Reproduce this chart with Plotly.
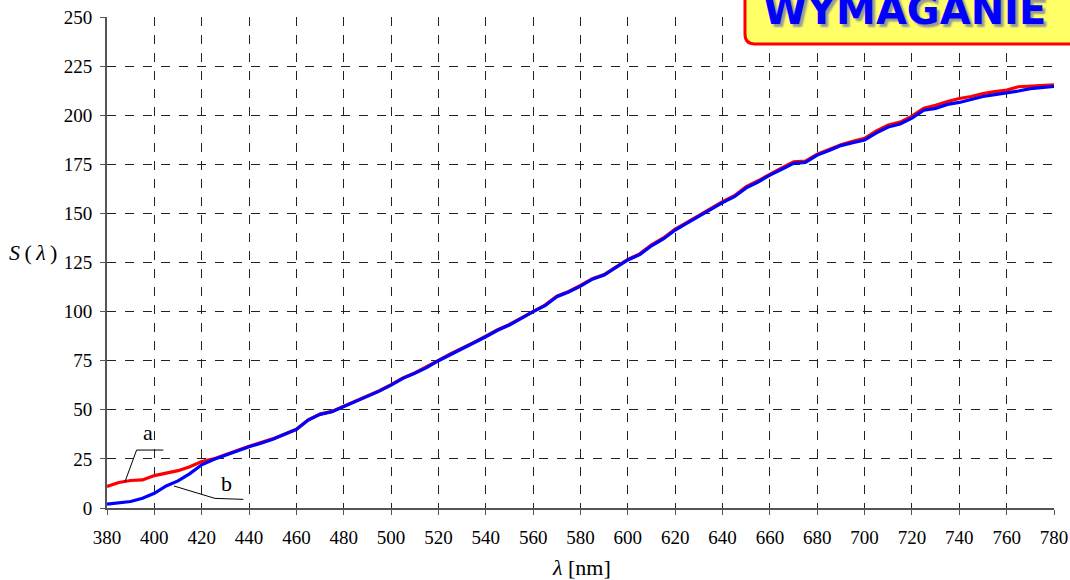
import plotly.graph_objects as go

wavelength = list(range(380, 781, 5))

s_b = [2, 2.5, 3.3, 5, 7.5, 11.2, 13.8, 17.5, 22, 24.7,
       27, 29, 31.2, 33, 35, 37.5, 40, 44.8, 47.7, 49,
       51.6, 54, 56.7, 59.5, 62.6, 66, 68.6, 71.5, 75, 78,
       81, 84, 87.2, 90.5, 93.2, 96.5, 100, 103, 107.6, 110,
       113, 116.5, 118.6, 122.5, 126.3, 129, 133.5, 137, 141.5, 145,
       148.5, 152, 155.5, 158.5, 163, 166, 169.5, 172.5, 175.5, 176,
       179.7, 182, 184.5, 186, 187.4, 191, 194, 195.5, 198.5, 202.5,
       203.5, 205.5, 206.5, 208, 209.5, 210.5, 211.3, 212.3, 213.5, 214, 214.7]

s_a = [11, 13, 14, 14.3, 16.5, 17.8, 19, 21, 23.6, 25,
       27.3, 29.3, 31.4, 33.2, 35.2, 37.6, 40.1, 44.9, 47.8, 49.2,
       51.8, 54.2, 56.9, 59.7, 62.8, 66.2, 68.8, 71.8, 75.2, 78.5,
       81.3, 84.3, 87.5, 90.8, 93.5, 96.8, 100.3, 103.3, 107.9, 110.3,
       113.3, 116.8, 118.9, 122.8, 126.6, 129.4, 134, 137.5, 142, 145.4,
       149, 152.5, 156, 159, 163.6, 166.6, 170, 173.2, 176.2, 176.6,
       180.2, 182.6, 185, 186.7, 188.2, 192, 195, 196.5, 199.5, 203.5,
       205, 207, 208.5, 209.5, 211, 212, 212.8, 214.5, 214.8, 215.2, 215.4]

x_ticks = list(range(380, 781, 20))
y_ticks = list(range(0, 251, 25))

serif = "Liberation Serif"

fig = go.Figure()
fig.add_trace(go.Scatter(x=wavelength, y=s_a, mode="lines",
                         line=dict(color="#FF0000", width=3.2), name="a"))
fig.add_trace(go.Scatter(x=wavelength, y=s_b, mode="lines",
                         line=dict(color="#0000FF", width=3.2), name="b"))

W, H = 1070, 580
L, R, T, B = 107, 1054, 17, 508


def px(xp):
    return (xp - L) / (R - L)


def py(yp):
    return (B - yp) / (B - T)


# rounded yellow box (top-right)
bx0, bx1, by0, by1, rr = 745, 1085, -20, 44, 10
path = (f"M {px(bx0)},{py(by0)} L {px(bx0)},{py(by1 - rr)} "
        f"Q {px(bx0)},{py(by1)} {px(bx0 + rr)},{py(by1)} "
        f"L {px(bx1)},{py(by1)} L {px(bx1)},{py(by0)} Z")

shapes = [
    dict(type="path", xref="paper", yref="paper", path=path,
         fillcolor="#FFFF66", line=dict(color="#FF0000", width=3), layer="above"),
    # leader line for a
    dict(type="path", xref="x", yref="y",
         path="M 403.8,29.5 L 392.5,29.5 L 387.6,13.4",
         line=dict(color="black", width=1)),
    # leader line for b
    dict(type="path", xref="x", yref="y",
         path="M 437.6,4.4 L 425.6,4.9 L 408.3,11.2",
         line=dict(color="black", width=1)),
]

annotations = [
    dict(text="<b>WYMAGANIE</b>", xref="paper", yref="paper",
         x=px(904.5), y=py(10), xanchor="center", yanchor="middle",
         showarrow=False,
         font=dict(family="DejaVu Sans", size=40, color="#0000FF",
                   shadow="3px 3px 2px #999999")),
    dict(text="a", x=397.3, y=38.5, xref="x", yref="y", showarrow=False,
         font=dict(family=serif, size=22, color="black")),
    dict(text="b", x=430.3, y=12.3, xref="x", yref="y", showarrow=False,
         font=dict(family=serif, size=22, color="black")),
    dict(text="<i>S</i>\u2009(\u2009<i>λ</i>\u2009)", xref="paper", yref="paper",
         x=px(33), y=py(252), xanchor="center", yanchor="middle", showarrow=False,
         font=dict(family=serif, size=22, color="black")),
    dict(text="<i>λ</i> [nm]", xref="paper", yref="paper",
         x=px(581), y=py(567), xanchor="center", yanchor="middle", showarrow=False,
         font=dict(family=serif, size=22, color="black")),
]

fig.update_layout(
    width=W, height=H,
    margin=dict(l=L, r=W - R, t=T, b=H - B, autoexpand=False),
    paper_bgcolor="white", plot_bgcolor="white",
    showlegend=False,
    shapes=shapes, annotations=annotations,
    font=dict(family=serif, size=19, color="black"),
)

axis_common = dict(showgrid=True, gridcolor="#222222", griddash="dash", gridwidth=1,
                   showline=True, linecolor="#555555", linewidth=2,
                   ticks="outside", ticklen=5, tickcolor="#555555",
                   zeroline=False, automargin=False,
                   tickfont=dict(family=serif, size=19))

fig.update_xaxes(range=[380, 780], tickvals=x_ticks,
                 ticktext=[str(v) for v in x_ticks], ticklabelstandoff=6,
                 **axis_common)
fig.update_yaxes(range=[0, 250], tickvals=y_ticks,
                 ticktext=[str(v) for v in y_ticks], ticklabelstandoff=4,
                 **axis_common)

fig.write_html("out.html")
